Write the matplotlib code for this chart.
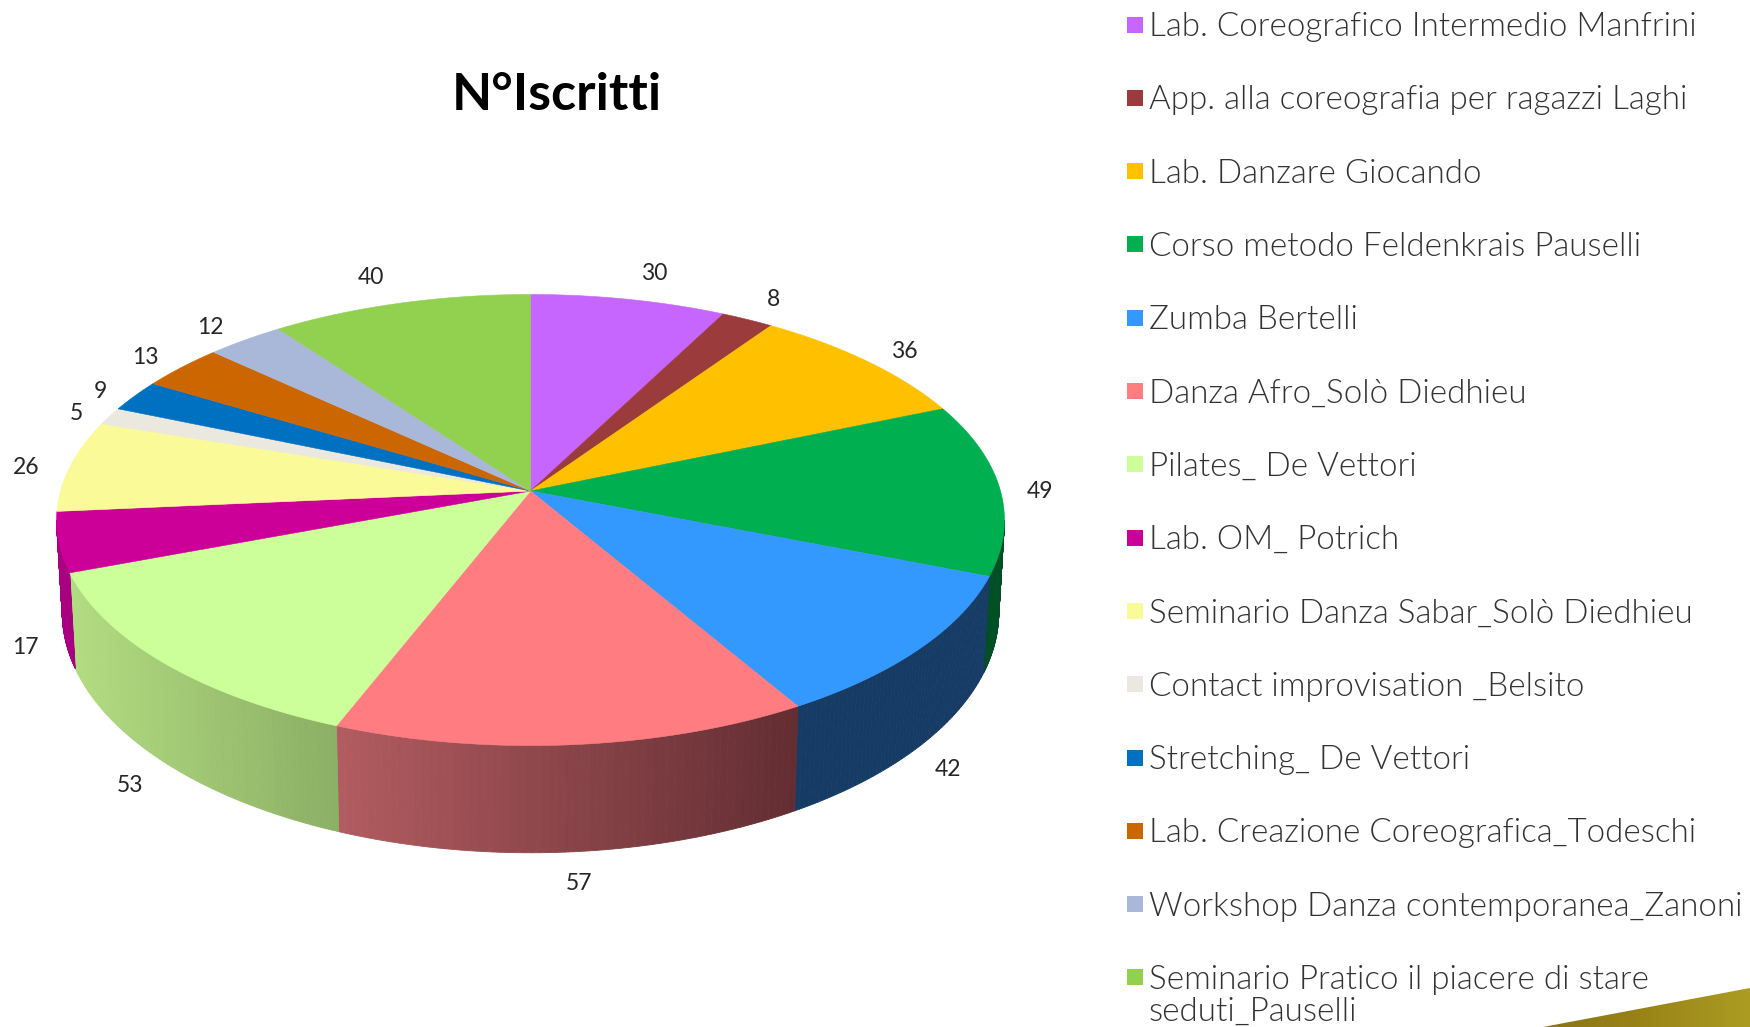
import numpy as np
import matplotlib
matplotlib.use('Agg')
import matplotlib.pyplot as plt
from matplotlib.patches import Polygon, Rectangle
from matplotlib.colors import LinearSegmentedColormap


names = ['Lab. Coreografico Intermedio Manfrini', 'App. alla coreografia per ragazzi Laghi',
         'Lab. Danzare Giocando', 'Corso metodo Feldenkrais Pauselli', 'Zumba Bertelli',
         'Danza Afro_Solò Diedhieu', 'Pilates_ De Vettori', 'Lab. OM_ Potrich',
         'Seminario Danza Sabar_Solò Diedhieu', 'Contact improvisation _Belsito',
         'Stretching_ De Vettori', 'Lab. Creazione Coreografica_Todeschi',
         'Workshop Danza contemporanea_Zanoni', 'Seminario Pratico il piacere di stare\nseduti_Pauselli']
values = [30, 8, 36, 49, 42, 57, 53, 17, 26, 5, 9, 13, 12, 40]
colors = ['#C666FF', '#9C3B3B', '#FFC000', '#00B050', '#3399FF', '#FF7C80', '#CCFF99',
          '#CC0099', '#FBFA99', '#EAE8DF', '#0070C0', '#CC6600', '#A9B8D8', '#92D050']
# side colours, left and right end of the visible rim
rim_left = ['#C666FF', '#953735', '#FFC000', '#004F25', '#163C66', '#B25C60', '#B2DC82',
            '#A80080', '#FBFA99', '#EAE8DF', '#0070C0', '#CC6600', '#A9B8D8', '#92D050']
rim_right = ['#C666FF', '#953735', '#FFC000', '#004F25', '#163C66', '#622D32', '#8CAF64',
             '#A80080', '#FBFA99', '#EAE8DF', '#0070C0', '#CC6600', '#A9B8D8', '#92D050']
label_xy = [(654, 274), (773, 300), (904, 351), (1040, 492), (948, 770), (579, 883), (130, 786),
            (25, 647), (26, 468), (76, 413), (100, 391), (145, 357), (210, 327), (371, 277)]

cx, cy = 530.5, 491
rx, ry, k = 470, 221.8, 0.1287


def top_xy(theta):
    # circle seen in perspective, theta clockwise from the top
    u = np.sin(theta)
    v = np.cos(theta)
    w = 1 + k * v
    return cx + rx * u / w, cy - ry * v / w


def bottom_xy(theta):
    x, y = top_xy(theta)
    return cx + 0.988 * (x - cx), cy + 90.4 + 1.066 * (y - cy)


def mix(c1, c2, t):
    a = np.array(matplotlib.colors.to_rgb(c1))
    b = np.array(matplotlib.colors.to_rgb(c2))
    return a + (b - a) * t


fig = plt.figure(figsize=(17.5, 10.27), dpi=100)
ax = fig.add_axes([0, 0, 1, 1])
ax.set_xlim(0, 1750)
ax.set_ylim(1027, 0)
ax.axis('off')

edges = np.cumsum([0] + values) / sum(values) * 2 * np.pi
vis_a = np.pi / 2 + np.arcsin(k)
vis_b = 2 * np.pi - vis_a

# side of the pie, theta runs right to left here
for i in range(len(values)):
    a = max(edges[i], vis_a)
    b = min(edges[i + 1], vis_b)
    if a >= b:
        continue
    th = np.linspace(a, b, 61)
    x_right = top_xy(th[0])[0]
    x_left = top_xy(th[-1])[0]
    for j in range(len(th) - 1):
        part = th[j:j + 2]
        xt, yt = top_xy(part)
        xb, yb = bottom_xy(part)
        t = (xt.mean() - x_left) / (x_right - x_left)
        c = mix(rim_left[i], rim_right[i], t)
        pts = np.column_stack([np.r_[xt, xb[::-1]], np.r_[yt, yb[::-1]]])
        ax.add_patch(Polygon(pts, closed=True, fc=c, ec=c, lw=0.6))

# top of the pie
for i in range(len(values)):
    th = np.linspace(edges[i], edges[i + 1], 80)
    x, y = top_xy(th)
    pts = np.column_stack([np.r_[cx, x], np.r_[cy, y]])
    ax.add_patch(Polygon(pts, closed=True, fc=colors[i], ec=colors[i], lw=0.4))

for v, (x, y) in zip(values, label_xy):
    ax.text(x, y, str(v), ha='center', va='center', fontsize=16.5, color='#262626', family='Lato')

ax.text(557, 95, 'N°Iscritti', ha='center', va='center', fontsize=37.5, fontweight='bold',
        color='black', family='Lato')

# legend
for i, name in enumerate(names):
    y = 24.5 + 73.3 * i
    ax.add_patch(Rectangle((1127, y - 8), 16, 16, fc=colors[i], ec='none'))
    lines = name.split('\n')
    for n, line in enumerate(lines):
        ax.text(1149, y + 2.5 + 32 * n, line, ha='left', va='center', fontsize=23.9, color='#333333',
                family='Lato', fontweight=300)

# gold slide decoration in the corner
grad = LinearSegmentedColormap.from_list('gold', ['#8A7414', '#9A8418', '#AC9C22'])
im = ax.imshow(np.linspace(0, 1, 256).reshape(1, -1), extent=(1543, 1750, 1027, 988), cmap=grad,
               aspect='auto', zorder=1)
corner = Polygon([(1543, 1027), (1750, 988), (1750, 1027)], closed=True, transform=ax.transData,
                 fc='none', ec='none')
ax.add_patch(corner)
im.set_clip_path(corner)
ax.set_xlim(0, 1750)
ax.set_ylim(1027, 0)

fig.savefig('out.png', dpi=100)
